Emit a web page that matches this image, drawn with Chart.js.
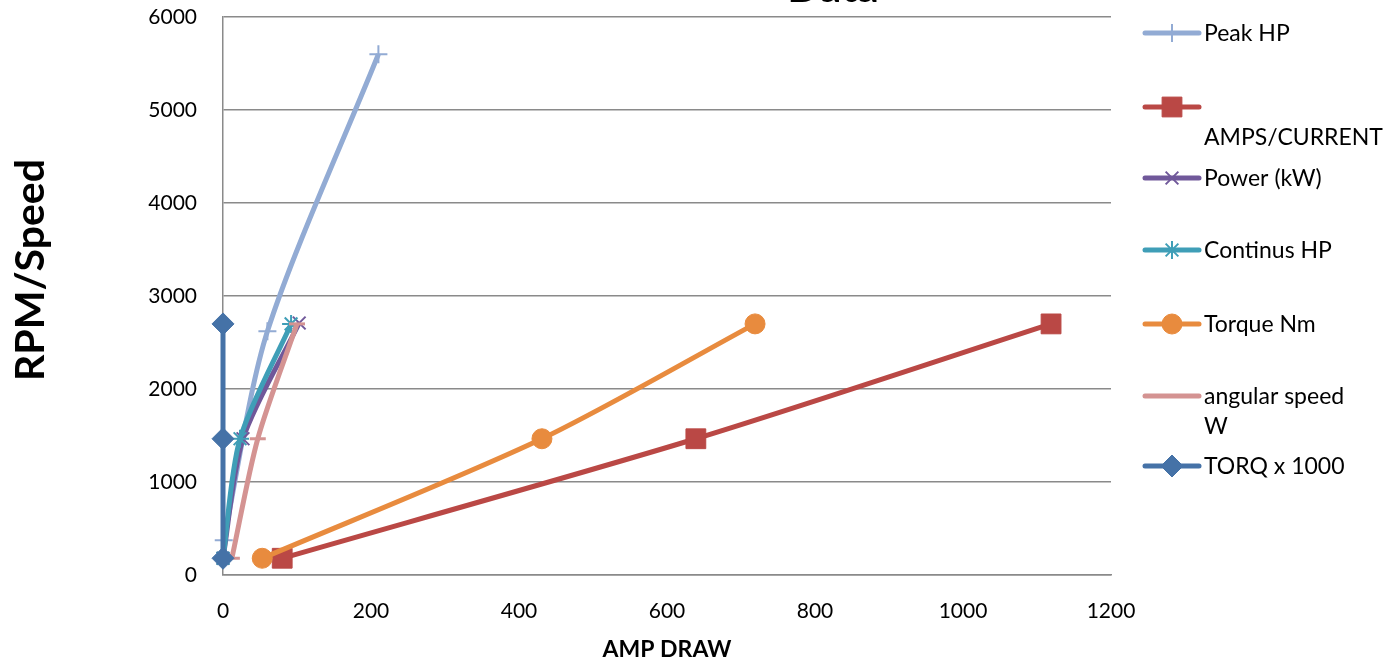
<!DOCTYPE html>
<html>
<head>
<meta charset="utf-8">
<script src="https://cdn.jsdelivr.net/npm/chart.js@4.4.1/dist/chart.umd.min.js"></script>
<style>
html,body{margin:0;padding:0;background:#fff;overflow:hidden;}
#wrap{position:relative;width:1385px;height:666px;}
canvas{display:block;}
</style>
</head>
<body>
<div id="wrap"><canvas id="c" width="1385" height="666"></canvas></div>
<script>
// ---- data ----
const chartTitle = "Data";
const xTitle = "AMP DRAW";
const yTitle = "RPM/Speed";
const seriesNames = ["Peak HP", "AMPS/CURRENT", "Power (kW)", "Continus HP", "Torque Nm", "angular speed W", "TORQ x 1000"];
const legendLines = [["Peak HP"], ["", "AMPS/CURRENT"], ["Power (kW)"], ["Continus HP"], ["Torque Nm"], ["angular speed", "W"], ["TORQ x 1000"]];

const peakX = [1, 60, 210];
const peakY = [375, 2620, 5600];
const ampsX = [80, 639, 1119];
const ampsY = [180, 1465, 2700];
const powerX = [0, 27, 103];
const powerY = [180, 1465, 2710];
const contX = [0, 23, 92];
const contY = [180, 1465, 2700];
const torqueX = [53, 431, 719];
const torqueY = [180, 1465, 2700];
const angX = [12, 47, 100];
const angY = [180, 1465, 2700];
const torqX = [0, 0, 0];
const torqY = [180, 1465, 2700];

const xTicks = [0, 200, 400, 600, 800, 1000, 1200];
const yTicks = [0, 1000, 2000, 3000, 4000, 5000, 6000];

// ---- styles ----
const colors = ['#92ABD4', '#BA4845', '#70589A', '#3F9EB7', '#E88B3E', '#D49392', '#4572A7'];
const styles = [
  {pointStyle: 'cross', radius: 9, bw: 2, fill: false},
  {pointStyle: 'rect', radius: 14, bw: 1, fill: true},
  {pointStyle: 'crossRot', radius: 9, bw: 2, fill: false},
  {pointStyle: 'star', radius: 9, bw: 2, fill: false},
  {pointStyle: 'circle', radius: 10, bw: 1, fill: true},
  {pointStyle: 'line', radius: 8, bw: 3, fill: false},
  {pointStyle: 'rectRot', radius: 11, bw: 1, fill: true}
];
const xs = [peakX, ampsX, powerX, contX, torqueX, angX, torqX];
const ys = [peakY, ampsY, powerY, contY, torqueY, angY, torqY];

const datasets = seriesNames.map((name, i) => ({
  label: name,
  data: xs[i].map((x, k) => ({x: x, y: ys[i][k]})),
  showLine: true,
  borderColor: colors[i],
  backgroundColor: colors[i],
  borderWidth: 5,
  tension: 0.28,
  pointStyle: styles[i].pointStyle,
  pointRadius: styles[i].radius,
  pointHoverRadius: styles[i].radius,
  pointBorderWidth: styles[i].bw,
  pointBorderColor: colors[i],
  pointBackgroundColor: styles[i].fill ? colors[i] : 'rgba(0,0,0,0)',
  order: seriesNames.length - 1 - i,
  clip: false
}));

const FONT = 'Lato, "Open Sans", sans-serif';

const overlay = {
  id: 'overlay',
  afterDraw(chart) {
    const ctx = chart.ctx;
    ctx.save();
    ctx.fillStyle = '#000';
    ctx.textAlign = 'center';
    ctx.textBaseline = 'alphabetic';
    ctx.font = 'bold 43px ' + FONT;
    ctx.fillText(chartTitle, 833, 2);
    ctx.textBaseline = 'middle';
    ctx.font = 'bold 23px ' + FONT;
    ctx.fillText(xTitle, 667, 650);
    ctx.save();
    ctx.translate(31, 270);
    ctx.rotate(-Math.PI / 2);
    ctx.font = 'bold 41px ' + FONT;
    ctx.fillText(yTitle, 0, 0);
    ctx.restore();

    // legend
    const rowY = [33, 107, 178, 250, 324, 396, 466];
    const lineH = 30;
    ctx.textAlign = 'left';
    ctx.font = '23px ' + FONT;
    for (let i = 0; i < seriesNames.length; i++) {
      const y = rowY[i];
      ctx.strokeStyle = colors[i];
      ctx.lineWidth = 5;
      ctx.lineCap = 'round';
      ctx.beginPath();
      ctx.moveTo(1145, y);
      ctx.lineTo(1199, y);
      ctx.stroke();
      ctx.lineCap = 'butt';
      ctx.fillStyle = colors[i];
      ctx.strokeStyle = colors[i];
      ctx.lineWidth = styles[i].bw;
      const opts = {pointStyle: styles[i].pointStyle, radius: styles[i].radius, rotation: 0, borderWidth: styles[i].bw};
      if (Chart.helpers && Chart.helpers.drawPoint) {
        if (!styles[i].fill) ctx.fillStyle = 'rgba(0,0,0,0)';
        Chart.helpers.drawPoint(ctx, opts, 1172, y);
      }
      ctx.fillStyle = '#000';
      legendLines[i].forEach((t, k) => ctx.fillText(t, 1204, y + 1 + k * lineH));
    }
    ctx.restore();
  }
};

new Chart(document.getElementById('c'), {
  type: 'scatter',
  data: {datasets: datasets},
  options: {
    responsive: false,
    animation: false,
    events: [],
    layout: {padding: {left: 0, right: 274, top: 17, bottom: 0}},
    plugins: {legend: {display: false}, title: {display: false}, tooltip: {enabled: false}},
    scales: {
      x: {
        type: 'linear', min: 0, max: 1200,
        afterBuildTicks: s => { s.ticks = xTicks.map(v => ({value: v})); },
        afterFit: s => { s.height = 91; },
        grid: {display: false, drawTicks: false},
        border: {display: true, color: '#8a8a8a', width: 1.5},
        ticks: {padding: 24, color: '#000', font: {family: FONT, size: 21}, maxRotation: 0, callback: v => String(v)}
      },
      y: {
        type: 'linear', min: 0, max: 6000,
        afterBuildTicks: s => { s.ticks = yTicks.map(v => ({value: v})); },
        afterFit: s => { s.width = 223; s.paddingTop = 0; s.paddingBottom = 0; },
        grid: {display: true, color: '#8a8a8a', lineWidth: 1.5, drawTicks: false},
        border: {display: true, color: '#8a8a8a', width: 1.5},
        ticks: {padding: 26, color: '#000', font: {family: FONT, size: 21}, callback: v => String(v)}
      }
    }
  },
  plugins: [overlay]
});
</script>
</body>
</html>
